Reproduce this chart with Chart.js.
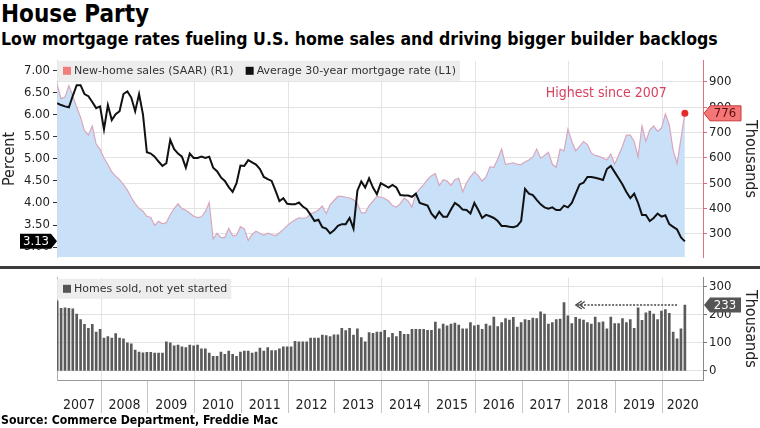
<!DOCTYPE html>
<html>
<head>
<meta charset="UTF-8">
<title>House Party</title>
<script src="https://cdn.jsdelivr.net/npm/chart.js"></script>
<style>
  body {
    margin: 0;
    width: 760px;
    height: 428px;
    overflow: hidden;
    background: #fff;
    position: relative;
    font-family: 'DejaVu Sans Condensed', 'Liberation Sans', sans-serif;
    color: #000;
  }
  .txt { position: absolute; left: 1px; font-weight: bold; white-space: nowrap; }
  #title { top: 0px; font-size: 24px; }
  #subtitle { top: 29px; font-size: 16px; }
  #source { top: 413px; font-size: 12px; }
  canvas { position: absolute; left: 0; }
  #topChart { top: 50px; }
  #bottomChart { top: 268px; }
  #sep { position: absolute; left: 0; top: 266px; width: 760px; height: 3px; background: #3c3c3c; }
</style>
</head>
<body>
  <div id="title" class="txt" data-w="148">House Party</div>
  <div id="subtitle" class="txt" data-w="717">Low mortgage rates fueling U.S. home sales and driving bigger builder backlogs</div>
  <canvas id="topChart" width="760" height="218"></canvas>
  <canvas id="bottomChart" width="760" height="152"></canvas>
  <div id="sep"></div>
  <div id="source" class="txt" data-w="277">Source: Commerce Department, Freddie Mac</div>

<script>
  // monthly values, Jan 2007 .. Jun 2020
  const yearLabels = ["2007", "2008", "2009", "2010", "2011", "2012", "2013",
                      "2014", "2015", "2016", "2017", "2018", "2019", "2020"];

  // new-home sales, SAAR, thousands (right axis)
  const sales = [
    888, 834, 840, 885, 845, 800, 760, 708, 690, 726, 654, 634,
    600, 574, 545, 528, 514, 495, 473, 445, 420, 401, 390, 370,
    365, 334, 350, 340, 345, 376, 400, 419, 400, 394, 383, 370,
    365, 368, 388, 424, 280, 303, 286, 286, 322, 293, 295, 329,
    320, 275, 298, 311, 303, 295, 303, 298, 293, 305, 318, 333,
    345, 355, 364, 362, 364, 380, 385, 395, 410, 380, 415, 432,
    448, 448, 445, 442, 435, 420, 383, 383, 412, 430, 448, 445,
    440, 430, 412, 406, 420, 442, 430, 406, 460, 478, 495, 515,
    530, 538, 491, 514, 509, 491, 514, 520, 466, 502, 525, 545,
    530, 509, 525, 565, 563, 595, 635, 574, 578, 581, 575, 574,
    585, 592, 604, 635, 599, 610, 622, 575, 563, 635, 628, 713,
    665, 628, 646, 665, 653, 620, 610, 606, 600, 592, 615, 575,
    610, 646, 690, 690, 665, 604, 726, 665, 711, 726, 705, 718,
    773, 730, 630, 578, 676, 776
  ];

  // average 30-year mortgage rate, percent (left axis)
  const rate = [
    6.26, 6.22, 6.19, 6.17, 6.43, 6.67, 6.67, 6.47, 6.42, 6.29, 6.15, 6.19,
    5.67, 6.22, 5.88, 6.01, 6.08, 6.47, 6.53, 6.39, 6.08, 6.47, 6.01, 5.15,
    5.12, 5.05, 4.94, 4.84, 4.90, 5.43, 5.22, 5.12, 5.05, 4.80, 5.12, 5.02,
    5.02, 5.05, 5.02, 5.05, 4.80, 4.72, 4.58, 4.50, 4.36, 4.25, 4.45, 4.85,
    4.84, 4.97, 4.92, 4.87, 4.77, 4.59, 4.54, 4.50, 4.28, 4.04, 4.11, 3.98,
    3.97, 3.97, 4.01, 3.92, 3.86, 3.73, 3.59, 3.62, 3.45, 3.42, 3.31, 3.38,
    3.48, 3.52, 3.52, 3.66, 3.42, 4.28, 4.49, 4.35, 4.56, 4.35, 4.20, 4.45,
    4.40, 4.35, 4.41, 4.35, 4.18, 4.17, 4.17, 4.14, 4.21, 4.00, 3.97, 3.94,
    3.76, 3.66, 3.80, 3.69, 3.69, 3.85, 4.00, 3.94, 3.85, 3.84, 3.76, 4.00,
    3.84, 3.66, 3.73, 3.70, 3.66, 3.59, 3.48, 3.48, 3.46, 3.45, 3.48, 3.59,
    4.32, 4.21, 4.18, 4.07, 3.97, 3.90, 3.87, 3.90, 3.84, 3.84, 3.94, 3.90,
    4.00, 4.21, 4.42, 4.46, 4.59, 4.59, 4.57, 4.55, 4.52, 4.77, 4.84, 4.70,
    4.56, 4.42, 4.25, 4.11, 4.21, 4.00, 3.73, 3.73, 3.59, 3.66, 3.76, 3.69,
    3.72, 3.52, 3.46, 3.40, 3.22, 3.13
  ];

  // homes sold, not yet started, thousands
  const notStarted = [
    247, 222, 223, 222, 220, 201, 182, 165, 151, 165, 138, 147,
    116, 122, 116, 132, 116, 114, 100, 96, 74, 67, 64, 66,
    66, 63, 63, 63, 103, 100, 89, 92, 85, 83, 92, 89,
    92, 78, 78, 63, 52, 52, 67, 59, 70, 59, 52, 67,
    70, 70, 63, 67, 81, 70, 83, 72, 72, 78, 85, 85,
    85, 105, 103, 103, 103, 116, 116, 116, 127, 125, 122, 128,
    128, 151, 143, 151, 127, 149, 118, 103, 136, 133, 138, 138,
    144, 118, 133, 122, 140, 130, 130, 147, 147, 147, 147, 144,
    144, 173, 149, 166, 160, 166, 169, 162, 149, 149, 171, 160,
    162, 147, 166, 160, 191, 157, 171, 185, 180, 190, 155, 171,
    182, 179, 187, 185, 209, 201, 166, 171, 182, 184, 242, 195,
    168, 190, 184, 180, 171, 166, 191, 171, 174, 149, 191, 168,
    168, 185, 171, 182, 151, 223, 179, 206, 212, 201, 182, 212,
    217, 204, 138, 114, 149, 233
  ];

  const rateTicks = [3.0, 3.5, 4.0, 4.5, 5.0, 5.5, 6.0, 6.5, 7.0];
  const salesTicks = [300, 400, 500, 600, 700, 800, 900];
  const backlogTicks = [0, 100, 200, 300];

  // x is months since the start of 2007
  const xMin = 0.7, xMax = 166.4;
  const toX = i => i + 0.75;
  const fontFam = "'DejaVu Sans Condensed', 'Liberation Sans', sans-serif";
  const gridColor = '#e3e3e3';
  const clear = 'rgba(0,0,0,0)';

  // shrink/grow the header texts to the measured widths
  document.querySelectorAll('.txt').forEach(el => {
    const target = +el.dataset.w;
    const fs = parseFloat(getComputedStyle(el).fontSize);
    el.style.fontSize = (fs * target / el.offsetWidth).toFixed(2) + 'px';
  });

  function yearTicks(scale) {
    const t = [];
    yearLabels.forEach((lab, k) => {
      const a = Math.max(k * 12, xMin), b = Math.min(k * 12 + 12, xMax);
      t.push({ value: (a + b) / 2 });
      if (k > 0) t.push({ value: k * 12 });
    });
    t.sort((p, q) => p.value - q.value);
    scale.ticks = t;
  }
  const isBoundary = v => Math.abs(v / 12 - Math.round(v / 12)) < 1e-6;
  const evenYear = v => isBoundary(v) && Math.round(v / 12) % 2 === 1;

  function tag(ctx, x, y, w, h, dir, fill, stroke, text, color) {
    const s = dir === 'left' ? 1 : -1;
    ctx.beginPath();
    ctx.moveTo(x, y);
    ctx.lineTo(x + s * 6, y - h / 2);
    ctx.lineTo(x + s * w, y - h / 2);
    ctx.lineTo(x + s * w, y + h / 2);
    ctx.lineTo(x + s * 6, y + h / 2);
    ctx.closePath();
    ctx.fillStyle = fill;
    ctx.fill();
    if (stroke) { ctx.strokeStyle = stroke; ctx.lineWidth = 1; ctx.stroke(); }
    ctx.fillStyle = color;
    ctx.font = '13px ' + fontFam;
    ctx.textAlign = 'center';
    ctx.textBaseline = 'middle';
    ctx.fillText(text, x + s * (w + 5) / 2, y + 0.5);
  }

  function legend(ctx, x, y, items) {
    ctx.font = "11px 'DejaVu Sans', sans-serif";
    let w = 6;
    items.forEach(it => { w += 11 + ctx.measureText(it.text).width + 12; });
    ctx.fillStyle = 'rgba(236,236,236,0.92)';
    ctx.fillRect(x, y, w - 8, 20);
    let cx = x + 6;
    ctx.textAlign = 'left';
    ctx.textBaseline = 'middle';
    items.forEach(it => {
      ctx.fillStyle = it.color;
      ctx.fillRect(cx, y + 6, 8, 8);
      cx += 11;
      ctx.fillStyle = '#333';
      ctx.fillText(it.text, cx, y + 10.5);
      cx += ctx.measureText(it.text).width + 12;
    });
  }

  const topExtras = {
    id: 'topExtras',
    afterDraw(chart) {
      const { ctx, chartArea: a, scales } = chart;
      ctx.save();
      legend(ctx, a.left, a.top, [
        { color: '#f07c7c', text: 'New-home sales (SAAR) (R1)' },
        { color: '#111111', text: 'Average 30-year mortgage rate (L1)' }
      ]);
      ctx.fillStyle = '#d8405e';
      ctx.font = '14px ' + fontFam;
      ctx.textAlign = 'center';
      ctx.textBaseline = 'middle';
      ctx.fillText('Highest since 2007', scales.x.getPixelForValue(141.6), scales.ySales.getPixelForValue(856));
      const last = sales.length - 1;
      tag(ctx, a.right + 1, scales.ySales.getPixelForValue(sales[last]), 37, 15, 'left',
          '#f47676', '#c8383c', String(sales[last]), '#5a1010');
      tag(ctx, a.left, scales.yRate.getPixelForValue(rate[last]), 37, 15, 'right',
          '#000', null, rate[last].toFixed(2), '#fff');
      ctx.restore();
    }
  };

  const bottomExtras = {
    id: 'bottomExtras',
    afterDraw(chart) {
      const { ctx, chartArea: a, scales } = chart;
      ctx.save();
      legend(ctx, a.left, a.top + 1, [{ color: '#555', text: 'Homes sold, not yet started' }]);
      const last = notStarted.length - 1;
      // previous peak of the recovery years (the arrow points back to it)
      let spike = 60;
      for (let i = 60; i < last; i++) if (notStarted[i] > notStarted[spike]) spike = i;
      const y = scales.yBack.getPixelForValue(notStarted[last]);
      const x0 = scales.x.getPixelForValue(toX(last) - 2);
      const x1 = scales.x.getPixelForValue(toX(spike) + 3);
      ctx.strokeStyle = '#444';
      ctx.lineWidth = 1.5;
      ctx.setLineDash([2, 1.5]);
      ctx.beginPath(); ctx.moveTo(x0, y); ctx.lineTo(x1 + 1, y); ctx.stroke();
      ctx.setLineDash([]);
      ctx.lineWidth = 1.2;
      ctx.beginPath();
      ctx.moveTo(x1 + 6, y - 4); ctx.lineTo(x1, y); ctx.lineTo(x1 + 6, y + 4);
      ctx.moveTo(x1 + 9, y - 3.5); ctx.lineTo(x1 + 4, y); ctx.lineTo(x1 + 9, y + 3.5);
      ctx.stroke();
      tag(ctx, a.right + 1, y, 37, 15, 'left', '#555', null, String(notStarted[last]), '#fff');
      ctx.restore();
    }
  };

  const tickFont = { family: fontFam, size: 13 };
  const titleFont = { family: fontFam, size: 16 };

  new Chart(document.getElementById('topChart'), {
    type: 'line',
    data: {
      datasets: [
        {
          label: 'Average 30-year mortgage rate (L1)',
          yAxisID: 'yRate',
          data: rate.map((v, i) => ({ x: toX(i), y: v })),
          borderColor: '#111',
          borderWidth: 2,
          pointRadius: 0,
          tension: 0,
          order: 0
        },
        {
          label: 'New-home sales (SAAR) (R1)',
          yAxisID: 'ySales',
          data: sales.map((v, i) => ({ x: toX(i), y: v })),
          borderColor: '#d9a6bc',
          borderWidth: 1.2,
          backgroundColor: '#c8e1f9',
          fill: 'start',
          tension: 0,
          pointRadius: c => c.dataIndex === sales.length - 1 ? 3.5 : 0,
          pointBackgroundColor: '#e52a2a',
          pointBorderWidth: 0,
          order: 1
        }
      ]
    },
    options: {
      responsive: false,
      animation: false,
      layout: { padding: { top: 2, left: 0, right: 0, bottom: 0 } },
      plugins: { legend: { display: false }, tooltip: { enabled: false } },
      scales: {
        x: {
          type: 'linear',
          min: xMin,
          max: xMax,
          afterBuildTicks: yearTicks,
          afterFit: s => { s.height = 2; },
          ticks: { display: false },
          grid: { color: c => evenYear(c.tick.value) ? gridColor : clear, drawTicks: false },
          border: { display: false }
        },
        yRate: {
          type: 'linear',
          position: 'left',
          min: 2.771,
          max: 7.223,
          afterBuildTicks: s => { s.ticks = rateTicks.map(v => ({ value: v })); },
          afterFit: s => { s.width = 57; },
          ticks: { font: tickFont, color: '#222', padding: 3, callback: v => v.toFixed(2) },
          grid: { drawOnChartArea: false, tickLength: 4, tickColor: '#333' },
          border: { color: '#cfcfcf' },
          title: { display: true, text: 'Percent', font: titleFont, color: '#222', padding: 0 }
        },
        ySales: {
          type: 'linear',
          position: 'right',
          min: 208.4,
          max: 983.3,
          afterBuildTicks: s => { s.ticks = salesTicks.map(v => ({ value: v })); },
          afterFit: s => { s.width = 57; },
          ticks: { font: tickFont, color: '#222', padding: 2 },
          grid: { color: gridColor, tickLength: 4, tickColor: '#e0707f' },
          border: { color: '#e0707f' },
          title: { display: true, text: 'Thousands', font: titleFont, color: '#222', padding: 0 }
        }
      }
    },
    plugins: [topExtras]
  });

  new Chart(document.getElementById('bottomChart'), {
    type: 'bar',
    data: {
      datasets: [{
        label: 'Homes sold, not yet started',
        yAxisID: 'yBack',
        data: notStarted.map((v, i) => ({ x: toX(i), y: v })),
        backgroundColor: '#5a5a5a',
        barThickness: 2,
        grouped: false
      }]
    },
    options: {
      responsive: false,
      animation: false,
      layout: { padding: { top: 2, left: 0, right: 0, bottom: 0 } },
      plugins: { legend: { display: false }, tooltip: { enabled: false } },
      scales: {
        x: {
          type: 'linear',
          offset: false,
          min: xMin,
          max: xMax,
          afterBuildTicks: yearTicks,
          afterFit: s => { s.height = 40; },
          ticks: {
            autoSkip: false,
            maxRotation: 0,
            font: { family: fontFam, size: 14 },
            color: '#222',
            padding: -16,
            callback: v => isBoundary(v) ? '' : yearLabels[Math.floor(v / 12)]
          },
          grid: {
            offset: false,
            color: c => evenYear(c.tick.value) ? gridColor : clear,
            tickColor: c => isBoundary(c.tick.value) ? '#c4c4c4' : clear,
            tickLength: 33
          },
          border: { color: '#9a9a9a' }
        },
        yLeft: {
          type: 'linear',
          position: 'left',
          min: 0,
          max: 1,
          afterFit: s => { s.width = 57; },
          ticks: { display: false },
          grid: { drawOnChartArea: false, drawTicks: false },
          border: { color: '#b0b0b0' }
        },
        yBack: {
          type: 'linear',
          position: 'right',
          min: -31.9,
          max: 329.6,
          afterBuildTicks: s => { s.ticks = backlogTicks.map(v => ({ value: v })); },
          afterFit: s => { s.width = 57; },
          ticks: { font: tickFont, color: '#222', padding: 2 },
          grid: { color: gridColor, tickLength: 4, tickColor: '#777' },
          border: { color: '#8a8a8a' },
          title: { display: true, text: 'Thousands', font: titleFont, color: '#222', padding: 0 }
        }
      }
    },
    plugins: [bottomExtras]
  });
</script>
</body>
</html>
